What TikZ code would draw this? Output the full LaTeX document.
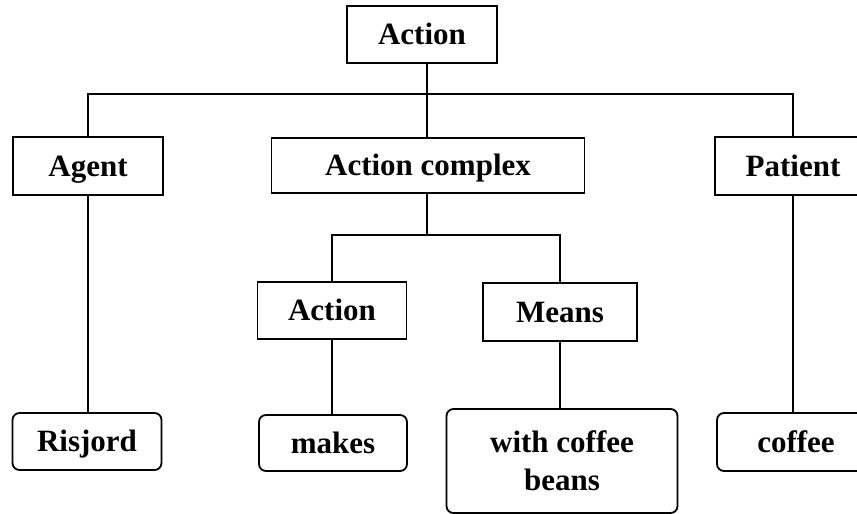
\documentclass[tikz,border=0pt]{standalone}
\usepackage{fontspec}
\setmainfont{Liberation Serif}
\begin{document}
\begin{tikzpicture}[x=1pt,y=-1pt,
  box/.style={draw,line width=1.8pt,font=\fontsize{31}{38}\selectfont\bfseries,inner sep=0pt,align=center,text height=20.5pt,text depth=0pt},
  rbox/.style={box,rounded corners=7pt},
  conn/.style={line width=1.9pt}]
\useasboundingbox (0,0) rectangle (857,514);
\clip (0,0) rectangle (857,514);
\node[box,minimum width=150pt,minimum height=57pt] (top) at (422,34.5) {Action};
\node[box,minimum width=150pt,minimum height=58pt] (agent) at (88,166) {Agent};
\node[box,minimum width=313pt,minimum height=55pt] (complex) at (428,165.5) {Action complex};
\node[box,minimum width=156pt,minimum height=58pt] (patient) at (793,166) {Patient};
\node[box,minimum width=149pt,minimum height=57pt] (act) at (332,310.5) {Action};
\node[box,minimum width=154pt,minimum height=58pt] (means) at (560,312) {Means};
\node[rbox,minimum width=149pt,minimum height=57pt] (ris) at (87,441.5) {Risjord};
\node[rbox,minimum width=148pt,minimum height=56pt] (makes) at (333,443) {makes};
\node[rbox,minimum width=231pt,minimum height=104pt,text height=58.5pt] (beans) at (562,461) {with coffee\\beans};
\node[rbox,minimum width=158pt,minimum height=58pt] (coffee) at (796,442) {coffee};
\coordinate (bar) at (427,94);
\coordinate (bar2) at (427,235);
\draw[conn] (top.south -| bar) -- (complex.north -| bar);
\draw[conn] (agent.north) |- (bar) -| (patient.north);
\draw[conn] (agent.south) -- (agent.south |- ris.north);
\draw[conn] (complex.south -| bar2) -- (bar2);
\draw[conn] (act.north) |- (bar2) -| (means.north);
\draw[conn] (act.south) -- (act.south |- makes.north);
\draw[conn] (means.south) -- (means.south |- beans.north);
\draw[conn] (patient.south) -- (patient.south |- coffee.north);
\end{tikzpicture}
\end{document}
